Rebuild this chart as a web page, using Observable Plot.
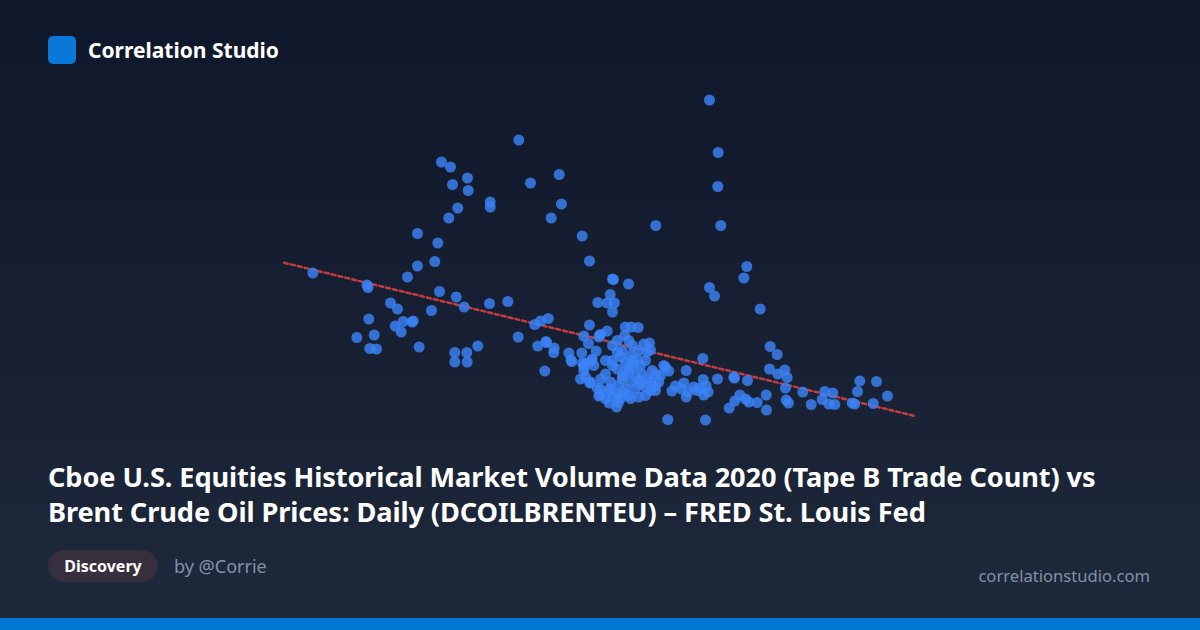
<!DOCTYPE html>
<html>
<head>
<meta charset="utf-8">
<script src="https://cdn.jsdelivr.net/npm/d3@7"></script>
<script src="https://cdn.jsdelivr.net/npm/@observablehq/plot@0.6"></script>
<style>
  html, body { margin: 0; padding: 0; }
  body {
    width: 1200px; height: 630px; overflow: hidden; position: relative;
    background: linear-gradient(180deg, #0f172a 0%, #1e293b 100%);
    font-family: "Noto Sans", "Open Sans", sans-serif;
  }
  #chart { position: absolute; left: 0; top: 0; }
  #chart svg { background: transparent; }
  .brand { position: absolute; left: 48px; top: 36px; display: flex; align-items: center; height: 28px; }
  .logo { width: 28px; height: 28px; border-radius: 5px; background: #0a78d7; }
  .brand span { margin-left: 12px; color: #fff; font-weight: 700; font-size: 21px; }
  .title { position: absolute; left: 48px; top: 459px; width: 1130px; color: #fff; font-weight: 700; font-size: 27.2px; line-height: 35px; letter-spacing: -0.1px; }
  .pill { position: absolute; left: 48px; top: 550px; height: 32px; width: 110px; border-radius: 16px; background: #352f3e; color: #fff; font-weight: 700; font-size: 16px; display: flex; align-items: center; justify-content: center; }
  .by { position: absolute; left: 174px; top: 553px; color: #8391a7; font-size: 18px; line-height: 26px; }
  .site { position: absolute; right: 50px; top: 564px; color: #8391a7; font-size: 16.6px; line-height: 24px; }
  .bar { position: absolute; left: 0; bottom: 0; width: 1200px; height: 12px; background: #0078d4; }
</style>
</head>
<body>
<div class="brand"><div class="logo"></div><span>Correlation Studio</span></div>
<div id="chart"></div>
<div class="title">Cboe U.S. Equities Historical Market Volume Data 2020 (Tape B Trade Count) vs<br>Brent Crude Oil Prices: Daily (DCOILBRENTEU) – FRED St. Louis Fed</div>
<div class="pill">Discovery</div>
<div class="by">by @Corrie</div>
<div class="site">correlationstudio.com</div>
<div class="bar"></div>
<script>
// Tape B trade count (millions) — x
const tradeCount = [
  1.123,1.665,1.675,3.183,2.41,2.50,2.67,2.52,2.677,3.30,3.587,2.897,2.897,3.61,2.573,2.483,3.507,2.17,3.817,2.373,
  3.89,2.343,2.17,2.07,2.39,2.557,2.637,2.89,3.073,1.90,1.97,2.31,1.683,2.027,2.127,2.115,1.947,2.007,1.563,1.737,
  1.693,1.76,2.187,2.543,2.663,2.543,2.667,2.773,3.177,3.343,3.40,3.477,3.373,3.46,3.455,3.537,3.533,3.443,3.683,3.713,
  3.705,3.813,3.89,3.833,3.88,
  5.09,5.177,5.173,5.203,4.553,5.463,5.433,5.09,5.14,5.597,4.12,4.13,4.28,4.097,3.973,4.067,4.14,4.12,4.247,4.307,
  4.377,3.993,4.067,5.023,5.697,5.767,5.69,5.843,5.773,5.867,5.333,5.34,5.47,5.17,4.857,4.65,4.683,5.85,6.023,6.243,
  6.323,6.217,6.283,6.343,6.107,6.593,6.76,6.57,6.87,6.517,6.543,6.727,5.857,5.88,5.657,5.66,5.567,5.483,5.45,5.393,
  5.343,5.287,4.673,5.05,5.027,5.057,4.993,5.077,5.033,4.967,4.933,4.833,4.75,4.713,4.81,4.857,4.877,4.383,4.16,4.087,
  4.0,4.003,3.893,3.85,3.833,3.82,3.917,3.957,3.933,3.967,3.983,
  4.0,3.983,4.243,4.283,4.433,4.49,4.167,4.217,4.467,4.5,3.91,3.85,4.117,4.2,4.3,4.367,3.833,4.05,4.167,4.25,
  4.333,4.417,4.517,3.8,3.9,4.1,4.217,4.3,4.383,4.5,4.583,4.0,4.083,4.167,4.25,4.35,4.45,4.55,4.167,4.633,
  4.55,4.467,4.5,4.4,
  4.25,4.3,4.28,4.22,4.35,4.32,4.18,4.4,4.12,4.45,4.28,4.2,4.38,4.05,4.12,4.32,4.6,
  4.05,4.12,4.22,4.30,4.45,4.55,4.18,4.10
];
// Brent crude price (USD/bbl) — y
const brentPrice = [
  37.5,35.1,34.6,64.1,59.7,58.7,56.5,55.2,54.0,55.5,57.2,51.7,50.7,51.3,50.5,48.5,48.5,45.4,44.9,43.5,
  39.9,39.8,38.9,36.7,33.8,32.7,30.7,31.4,31.8,31.5,30.3,30.0,28.3,27.8,27.9,27.7,26.9,25.7,24.6,25.1,
  22.4,22.3,22.7,21.6,21.6,19.7,19.7,22.9,24.7,27.2,27.9,28.4,22.9,23.6,23.8,22.5,21.6,17.9,21.5,19.8,
  20.1,21.5,27.1,24.9,23.4,
  72.1,61.6,54.8,47.0,47.0,38.8,36.5,34.6,32.9,30.3,36.3,36.2,35.3,33.2,31.6,31.5,31.5,29.7,26.7,26.7,
  26.6,25.1,25.9,20.4,22.8,21.2,18.3,18.1,17.3,16.6,16.7,16.5,16.0,16.3,18.0,18.7,17.9,14.5,13.7,13.8,
  13.5,12.2,11.3,11.2,11.2,15.9,15.8,13.8,12.9,11.5,11.3,11.4,12.1,11.5,13.1,10.1,11.6,11.7,12.3,13.1,
  11.9,10.5,8.2,8.1,16.2,14.9,14.5,13.7,13.1,14.0,14.7,15.5,14.9,13.9,14.3,12.7,13.7,12.7,10.7,11.5,
  13.1,16.3,15.5,16.7,18.7,19.5,20.3,21.9,19.0,14.5,12.9,
  25.2,24.7,25.0,24.0,23.3,23.5,21.7,22.0,21.7,22.1,20.0,19.5,20.0,20.7,21.0,20.3,18.0,17.3,18.3,18.0,
  18.7,17.3,18.0,16.3,15.7,15.7,16.3,15.7,16.0,15.7,15.7,14.3,14.0,13.3,14.3,14.3,14.7,14.0,24.0,19.0,
  17.3,16.3,14.0,15.3,
  19.6,19.0,17.6,17.0,17.0,20.0,15.0,19.0,19.0,20.0,13.0,12.4,22.0,20.0,23.0,23.0,17.0,
  12.4,12.8,13.6,12.4,13.0,15.0,11.6,14.4
];

const n = Math.min(tradeCount.length, brentPrice.length);
const points = d3.range(n).map(i => ({x: tradeCount[i], y: brentPrice[i]}));

// least-squares trend line over the padded x extent
const mx = d3.mean(points, d => d.x), my = d3.mean(points, d => d.y);
const slope = d3.sum(points, d => (d.x - mx) * (d.y - my)) / d3.sum(points, d => (d.x - mx) ** 2);
const intercept = my - slope * mx;
const [x0, x1] = d3.extent(points, d => d.x);
const pad = (x1 - x0) * 0.05;
const trend = [x0 - pad, x1 + pad].map(x => ({x, y: intercept + slope * x}));

const chart = Plot.plot({
  width: 1200,
  height: 480,
  marginLeft: 250,
  marginRight: 250,
  marginTop: 60,
  marginBottom: 20,
  x: {domain: [0.5, 7.5], axis: null},
  y: {domain: [0, 80], axis: null},
  style: {background: "transparent"},
  marks: [
    Plot.line(trend, {x: "x", y: "y", stroke: "#ef4444", strokeOpacity: 0.8, strokeWidth: 2.5, strokeDasharray: "4,3"}),
    Plot.dot(points, {x: "x", y: "y", r: 5.5, fill: "#3b82f6", fillOpacity: 0.82, stroke: "none"})
  ]
});
document.getElementById("chart").appendChild(chart);
</script>
</body>
</html>
